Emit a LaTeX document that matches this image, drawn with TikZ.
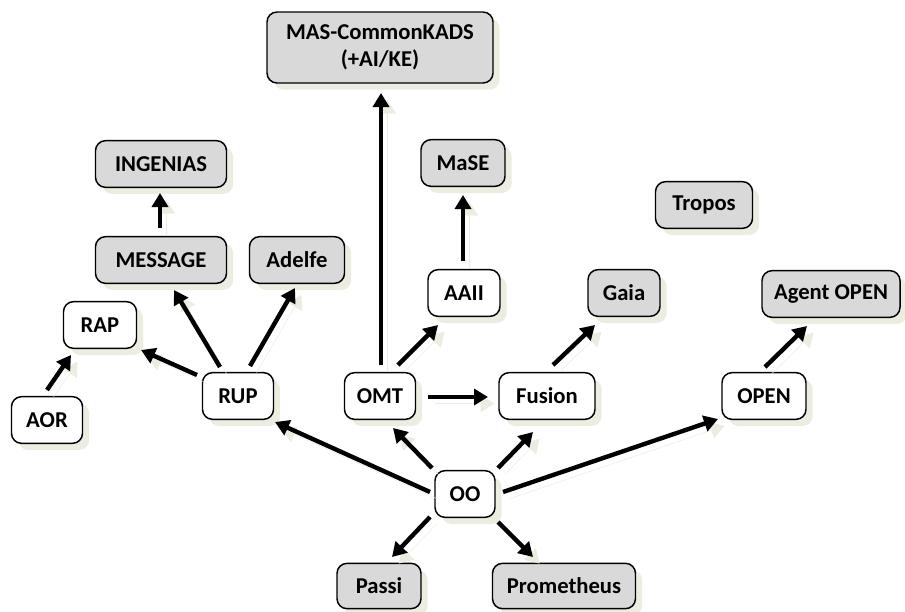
\documentclass[tikz,border=0pt]{standalone}
\usepackage{fontspec}
\setmainfont{Carlito}
\usetikzlibrary{arrows.meta,shadows,calc}
\definecolor{boxgray}{RGB}{217,217,217}
\definecolor{shc}{RGB}{236,236,224}
\tikzset{
  mbox/.style={draw=black, line width=1.1pt, rounded corners=7.5pt, inner sep=0pt,
    minimum height=35pt, font=\fontsize{17}{20.5}\selectfont\bfseries, align=center,
    drop shadow={shadow xshift=5pt, shadow yshift=-5pt, fill=shc, opacity=1}},
  gbox/.style={mbox, fill=boxgray},
  wbox/.style={mbox, fill=white},
  arr/.style={line width=3.3pt, -{Triangle[length=10.5pt,width=12pt]},
    preaction={draw=shc, transform canvas={shift={(5pt,-5pt)}}}},
}
\begin{document}
\begin{tikzpicture}[x=0.75pt,y=-0.75pt]
\useasboundingbox (0,0) rectangle (905,611);
% nodes
\node[gbox, minimum width=226*0.75pt, minimum height=71*0.75pt] (MAS) at (380,47.5) {MAS-CommonKADS\\(+AI/KE)};
\node[gbox, minimum width=131*0.75pt] (ING) at (161,164) {INGENIAS};
\node[gbox, minimum width=84*0.75pt] (MaSE) at (463,163) {MaSE};
\node[gbox, minimum width=97*0.75pt] (Tropos) at (704,205) {Tropos};
\node[gbox, minimum width=131*0.75pt] (MSG) at (161,260) {MESSAGE};
\node[gbox, minimum width=95*0.75pt] (Adelfe) at (297,260) {Adelfe};
\node[wbox, minimum width=72*0.75pt] (AAII) at (464,293) {AAII};
\node[gbox, minimum width=72*0.75pt] (Gaia) at (624,293) {Gaia};
\node[gbox, minimum width=138*0.75pt] (AO) at (831,294) {Agent OPEN};
\node[wbox, minimum width=73*0.75pt] (RAP) at (100,325) {RAP};
\node[wbox, minimum width=71*0.75pt] (RUP) at (238,396) {RUP};
\node[wbox, minimum width=71*0.75pt] (OMT) at (380,396) {OMT};
\node[wbox, minimum width=96*0.75pt] (Fusion) at (547,396) {Fusion};
\node[wbox, minimum width=84*0.75pt] (OPEN) at (764,396) {OPEN};
\node[wbox, minimum width=71*0.75pt] (AOR) at (47,420) {AOR};
\node[wbox, minimum width=60*0.75pt] (OO) at (465,494) {OO};
\node[gbox, minimum width=84*0.75pt, minimum height=34pt] (Passi) at (379,586) {Passi};
\node[gbox, minimum width=143*0.75pt, minimum height=34pt] (Prom) at (564,586) {Prometheus};
% connectors
\draw[arr] ($(OO.center)+(-33,-26)$) -- ($(OMT.center)+(13,32)$);
\draw[arr] ($(OO.center)+(33,-26)$) -- ($(Fusion.center)+(-14,36)$);
\draw[arr] ($(OO.center)+(-35,23)$) -- ($(Passi.center)+(13,-29)$);
\draw[arr] ($(OO.center)+(33,28)$) -- ($(Prom.center)+(-31,-29)$);
\draw[arr] ($(OO.center)+(-35,-2)$) -- ($(RUP.center)+(37,26)$);
\draw[arr] ($(OO.center)+(38,-2)$) -- ($(OPEN.center)+(-46,23)$);
\draw[arr] ($(OMT.center)+(1,-31)$) -- ($(MAS.center)+(1,45.5)$);
\draw[arr] ($(OMT.center)+(18,-31)$) -- ($(AAII.center)+(-26,32)$);
\draw[arr] ($(OMT.center)+(48,1)$) -- ($(Fusion.center)+(-59,1)$);
\draw[arr] ($(Fusion.center)+(6,-31)$) -- ($(Gaia.center)+(-29,32)$);
\draw[arr] ($(OPEN.center)+(1,-29)$) -- ($(AO.center)+(-24,32)$);
\draw[arr] ($(AAII.center)+(-1,-32)$) -- ($(MaSE.center)+(0,32)$);
\draw[arr] ($(MSG.center)+(-1,-32)$) -- ($(ING.center)+(-1,29)$);
\draw[arr] ($(RUP.center)+(-18,-29)$) -- ($(MSG.center)+(13,30)$);
\draw[arr] ($(RUP.center)+(12,-30)$) -- ($(Adelfe.center)+(-2,28)$);
\draw[arr] ($(RUP.center)+(-41,-21)$) -- ($(RAP.center)+(41,25)$);
\draw[arr] ($(AOR.center)+(0,-30)$) -- ($(RAP.center)+(-29,30)$);
\end{tikzpicture}
\end{document}
